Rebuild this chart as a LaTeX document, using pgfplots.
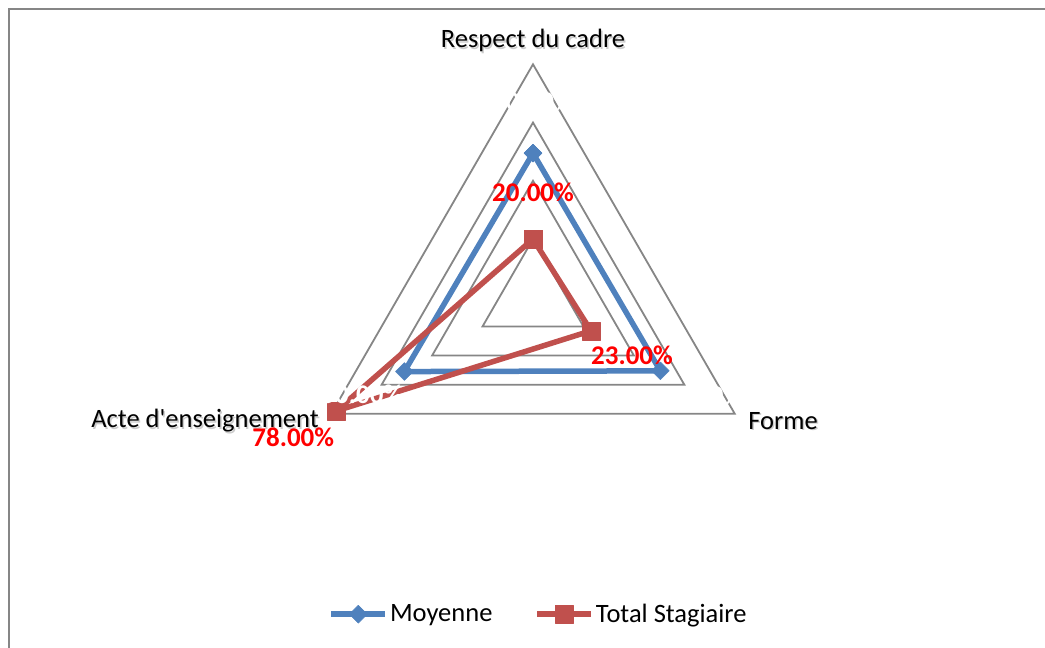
\documentclass[border=0pt]{standalone}
\usepackage{fontspec}
\setmainfont{Carlito}
\usepackage{pgfplots}
\pgfplotsset{compat=1.18}
\usepgfplotslibrary{polar}
\definecolor{mblue}{HTML}{4F81BD}
\definecolor{mred}{HTML}{C0504D}
\definecolor{mgrid}{HTML}{868686}
\begin{document}
\begin{tikzpicture}
\useasboundingbox (0pt,0pt) rectangle (1045pt,-648pt);
\draw[mgrid, line width=2pt] (9pt,-9pt) rectangle (1070pt,-670pt);
\begin{polaraxis}[
  at={(533pt,-297.3pt)}, anchor=origin,
  scale only axis, width=466pt, height=466pt,
  hide axis, xmin=0, xmax=360, ymin=0, ymax=80,
  clip=false,
  font=\fontsize{26.5}{30}\selectfont,
  legend columns=2,
  legend style={at={(0.512,-0.18)}, anchor=center, draw=none, fill=none,
    font=\fontsize{26.5}{30}\selectfont,
    /tikz/every even column/.append style={column sep=40pt}},
  legend image code/.code={\draw[mark repeat=2,mark phase=2,#1] plot coordinates {(0pt,0pt) (27pt,0pt) (54pt,0pt)};},
]
% grid triangles
\addplot[mgrid, line width=1.8pt, line join=miter, forget plot] coordinates {(90,20) (330,20) (210,20) (90,20) (330,20)};
\addplot[mgrid, line width=1.8pt, line join=miter, forget plot] coordinates {(90,40) (330,40) (210,40) (90,40) (330,40)};
\addplot[mgrid, line width=1.8pt, line join=miter, forget plot] coordinates {(90,60) (330,60) (210,60) (90,60) (330,60)};
\addplot[mgrid, line width=1.8pt, line join=miter, forget plot] coordinates {(90,80) (330,80) (210,80) (90,80) (330,80)};
% series
\addplot[mblue, line width=5.5pt, line join=round, mark=square*, mark size=6.3pt,
  mark options={rotate=45, solid, line width=0.5pt, fill=mblue}]
  coordinates {(90,49.5) (330,50.5) (210,51) (90,49.5)};
\addlegendentry{Moyenne}
\addplot[mred, line width=5.5pt, line join=round, mark=square*, mark size=9pt,
  mark options={solid, line width=0.5pt, fill=mred}]
  coordinates {(90,20) (330,23) (210,78) (90,20)};
\addlegendentry{Total Stagiaire}
% data labels
\addplot[draw=none, mark=none, forget plot, point meta=explicit symbolic, nodes near coords, nodes near coords align=center,
  every node near coord/.append style={text=white, font=\fontsize{27}{30}\selectfont\bfseries, yshift=52pt}]
  coordinates {(90,49.5) [50.00\%]};
\addplot[draw=none, mark=none, forget plot, point meta=explicit symbolic, nodes near coords, nodes near coords align=center,
  every node near coord/.append style={text=white, font=\fontsize{27}{30}\selectfont\bfseries, xshift=42pt, yshift=-24pt}]
  coordinates {(330,50.5) [50.00\%]};
\addplot[draw=none, mark=none, forget plot, point meta=explicit symbolic, nodes near coords, nodes near coords align=center,
  every node near coord/.append style={text=white, font=\fontsize{27}{30}\selectfont\bfseries, xshift=-42pt, yshift=-23pt}]
  coordinates {(210,51) [50.00\%]};
\addplot[draw=none, mark=none, forget plot, point meta=explicit symbolic, nodes near coords, nodes near coords align=center,
  every node near coord/.append style={text=red, font=\fontsize{27}{30}\selectfont\bfseries, yshift=47pt}]
  coordinates {(90,20) [20.00\%]};
\addplot[draw=none, mark=none, forget plot, point meta=explicit symbolic, nodes near coords, nodes near coords align=center,
  every node near coord/.append style={text=red, font=\fontsize{27}{30}\selectfont\bfseries, xshift=41pt, yshift=-25pt}]
  coordinates {(330,23) [23.00\%]};
\addplot[draw=none, mark=none, forget plot, point meta=explicit symbolic, nodes near coords, nodes near coords align=center,
  every node near coord/.append style={text=red, font=\fontsize{27}{30}\selectfont\bfseries, xshift=-43pt, yshift=-26pt}]
  coordinates {(210,78) [78.00\%]};
% category labels
\node[anchor=south, text=gray!40, xshift=1.5pt, yshift=7.5pt] at (axis cs:90,80) {Respect du cadre};
\node[anchor=south, yshift=9pt] at (axis cs:90,80) {Respect du cadre};
\node[anchor=west, text=gray!40, xshift=11.5pt, yshift=-8.5pt] at (axis cs:330,80) {Forme};
\node[anchor=west, xshift=10pt, yshift=-7pt] at (axis cs:330,80) {Forme};
\node[anchor=east, text=gray!40, xshift=-7.5pt, yshift=-8.5pt] at (axis cs:210,80) {Acte d\textquotesingle enseignement};
\node[anchor=east, xshift=-9pt, yshift=-7pt] at (axis cs:210,80) {Acte d\textquotesingle enseignement};
\end{polaraxis}
\end{tikzpicture}
\end{document}
